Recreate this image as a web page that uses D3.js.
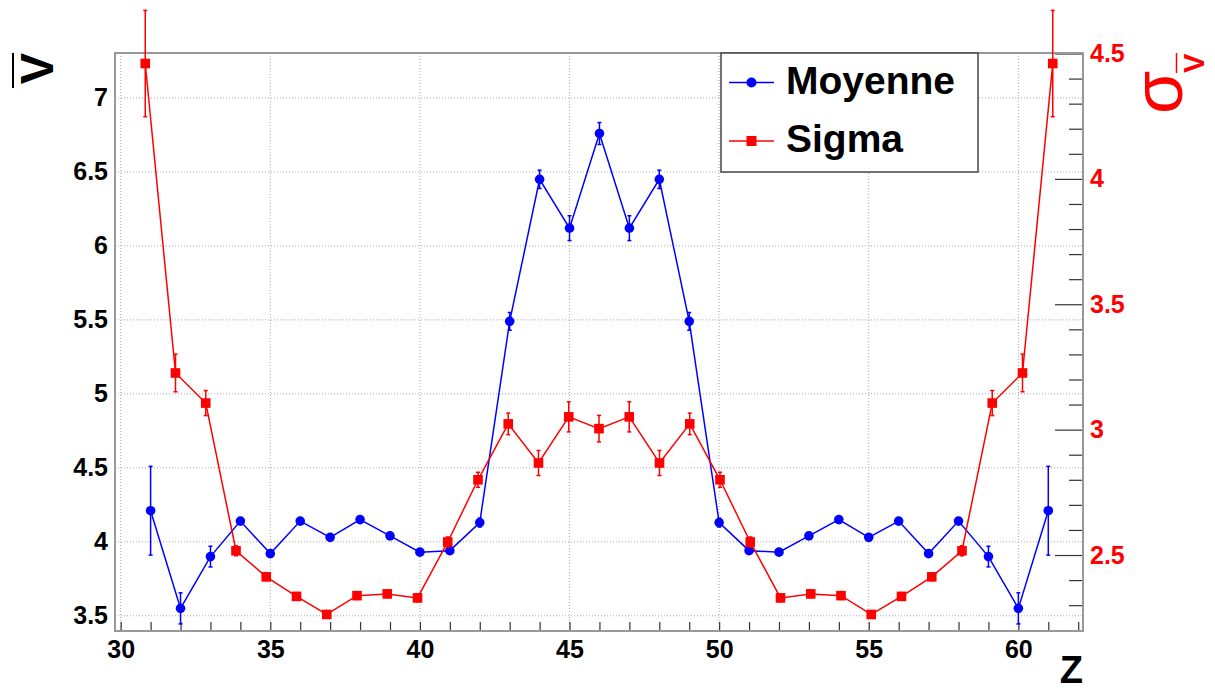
<!DOCTYPE html>
<html>
<head>
<meta charset="utf-8">
<script src="https://cdn.jsdelivr.net/npm/d3@7"></script>
<style>
  html, body { margin: 0; padding: 0; background: #fff; }
  svg { display: block; }
  text { font-family: "Liberation Sans", Arial, Helvetica, sans-serif; }
</style>
</head>
<body>
<svg id="chart" width="1215" height="691"></svg>
<script>
// ---------------- data ----------------
const zValues = [31, 32, 33, 34, 35, 36, 37, 38, 39, 40, 41, 42, 43, 44, 45, 46,
                 47, 48, 49, 50, 51, 52, 53, 54, 55, 56, 57, 58, 59, 60, 61];
const moyenne = [4.21, 3.55, 3.90, 4.14, 3.92, 4.14, 4.03, 4.15, 4.04, 3.93, 3.94, 4.13, 5.49, 6.45, 6.12, 6.76,
                 6.12, 6.45, 5.49, 4.13, 3.94, 3.93, 4.04, 4.15, 4.03, 4.14, 3.92, 4.14, 3.90, 3.55, 4.21];
const moyenneErr = [0.30, 0.105, 0.07, 0.02, 0.02, 0.02, 0.02, 0.02, 0.02, 0.02, 0.02, 0.03, 0.06, 0.062, 0.084, 0.074,
                    0.084, 0.062, 0.06, 0.03, 0.02, 0.02, 0.02, 0.02, 0.02, 0.02, 0.02, 0.02, 0.07, 0.105, 0.30];
const sigma = [4.46, 3.226, 3.106, 2.517, 2.413, 2.335, 2.263, 2.338, 2.345, 2.329, 2.552, 2.80, 3.023, 2.867, 3.051, 3.004,
               3.051, 2.867, 3.023, 2.80, 2.552, 2.329, 2.345, 2.338, 2.263, 2.335, 2.413, 2.517, 3.106, 3.226, 4.46];
const sigmaErr = [0.212, 0.075, 0.05, 0.02, 0.015, 0.015, 0.015, 0.015, 0.015, 0.015, 0.02, 0.03, 0.043, 0.05, 0.06, 0.053,
                  0.06, 0.05, 0.043, 0.03, 0.02, 0.015, 0.015, 0.015, 0.015, 0.015, 0.015, 0.02, 0.05, 0.075, 0.212];

const xMajorTicks = [30, 35, 40, 45, 50, 55, 60];
const xMinorTicks = [30, 31, 32, 33, 34, 35, 36, 37, 38, 39, 40, 41, 42, 43, 44, 45, 46,
                     47, 48, 49, 50, 51, 52, 53, 54, 55, 56, 57, 58, 59, 60, 61, 62];
const leftTicks = [3.5, 4, 4.5, 5, 5.5, 6, 6.5, 7];
const rightMajorTicks = [2.5, 3, 3.5, 4, 4.5];
const rightMinorTicks = [2.3, 2.4, 2.6, 2.7, 2.8, 2.9, 3.1, 3.2, 3.3, 3.4, 3.6, 3.7, 3.8, 3.9, 4.1, 4.2, 4.3, 4.4];
const legendLabels = ["Moyenne", "Sigma"];

// ---------------- layout ----------------
const svg = d3.select("#chart");
const L = 115, R = 1083, T = 53, B = 631;

const xBlue = d3.scaleLinear().domain([29.81, 62.16]).range([L, R]);
const xRed = d3.scaleLinear().domain([30, 62]).range([L, R]);
const yL = d3.scaleLinear().domain([3.397, 7.304]).range([B, T]);
const yR = d3.scaleLinear().domain([2.197, 4.502]).range([B, T]);

const BLUE = "#0000ff", RED = "#ff0000";

// grid
const grid = svg.append("g");
grid.selectAll("line.vg").data(xMajorTicks).join("line")
  .attr("x1", d => xBlue(d)).attr("x2", d => xBlue(d))
  .attr("y1", T).attr("y2", B)
  .attr("stroke", "#aaa").attr("stroke-width", 1).attr("stroke-dasharray", "1,2");
grid.selectAll("line.hg").data(leftTicks).join("line")
  .attr("x1", L).attr("x2", R)
  .attr("y1", d => yL(d)).attr("y2", d => yL(d))
  .attr("stroke", "#aaa").attr("stroke-width", 1).attr("stroke-dasharray", "1,2");

// x ticks (inside)
const xTickG = svg.append("g").attr("transform", `translate(0,${B})`)
  .call(d3.axisTop(xBlue).tickValues(xMinorTicks).tickSize(9).tickFormat(""));
xTickG.select(".domain").remove();
xTickG.selectAll("line").attr("stroke", "#333").attr("stroke-width", 1.2);

// x labels
const xLab = svg.append("g").attr("transform", `translate(0,${B})`)
  .call(d3.axisBottom(xBlue).tickValues(xMajorTicks).tickSize(0).tickPadding(9).tickFormat(d3.format("d")));
xLab.select(".domain").remove();
xLab.selectAll("text").attr("font-size", 25).attr("font-weight", "bold").attr("fill", "#000")
  .style("font-family", "'Liberation Sans', Arial, sans-serif");

// left labels
const yLab = svg.append("g").attr("transform", `translate(${L},0)`)
  .call(d3.axisLeft(yL).tickValues(leftTicks).tickSize(0).tickPadding(7).tickFormat(d => String(d)));
yLab.select(".domain").remove();
yLab.selectAll("text").attr("font-size", 25).attr("font-weight", "bold").attr("fill", "#000")
  .style("font-family", "'Liberation Sans', Arial, sans-serif");

// right axis ticks
const rMinor = svg.append("g").attr("transform", `translate(${R},0)`)
  .call(d3.axisLeft(yR).tickValues(rightMinorTicks).tickSize(14).tickFormat(""));
rMinor.select(".domain").remove();
rMinor.selectAll("line").attr("stroke", "#333").attr("stroke-width", 1.2);
const rMajor = svg.append("g").attr("transform", `translate(${R},0)`)
  .call(d3.axisLeft(yR).tickValues(rightMajorTicks).tickSize(28).tickFormat(""));
rMajor.select(".domain").remove();
rMajor.selectAll("line").attr("stroke", "#333").attr("stroke-width", 1.2);
const rLab = svg.append("g").attr("transform", `translate(${R},0)`)
  .call(d3.axisRight(yR).tickValues(rightMajorTicks).tickSize(0).tickPadding(7).tickFormat(d => String(d)));
rLab.select(".domain").remove();
rLab.selectAll("text").attr("font-size", 25).attr("font-weight", "bold").attr("fill", RED)
  .style("font-family", "'Liberation Sans', Arial, sans-serif");

// frame
svg.append("rect").attr("x", L).attr("y", T).attr("width", R - L).attr("height", B - T)
  .attr("fill", "none").attr("stroke", "#999").attr("stroke-width", 2);

// series drawing
function drawSeries(xs, ys, errs, xScale, yScale, color, marker) {
  const g = svg.append("g");
  const data = xs.map((x, i) => ({ x, y: ys[i], e: errs[i] }));
  g.append("path").datum(data)
    .attr("fill", "none").attr("stroke", color).attr("stroke-width", 1.5)
    .attr("d", d3.line().x(d => xScale(d.x)).y(d => yScale(d.y)));
  g.selectAll("line.err").data(data).join("line")
    .attr("x1", d => xScale(d.x)).attr("x2", d => xScale(d.x))
    .attr("y1", d => yScale(d.y + d.e)).attr("y2", d => yScale(d.y - d.e))
    .attr("stroke", color).attr("stroke-width", 1.5);
  g.selectAll("line.capt").data(data).join("line")
    .attr("x1", d => xScale(d.x) - 2).attr("x2", d => xScale(d.x) + 2)
    .attr("y1", d => yScale(d.y + d.e)).attr("y2", d => yScale(d.y + d.e))
    .attr("stroke", color).attr("stroke-width", 1.5);
  g.selectAll("line.capb").data(data).join("line")
    .attr("x1", d => xScale(d.x) - 2).attr("x2", d => xScale(d.x) + 2)
    .attr("y1", d => yScale(d.y - d.e)).attr("y2", d => yScale(d.y - d.e))
    .attr("stroke", color).attr("stroke-width", 1.5);
  if (marker === "circle") {
    g.selectAll("circle").data(data).join("circle")
      .attr("cx", d => xScale(d.x)).attr("cy", d => yScale(d.y)).attr("r", 4.8)
      .attr("fill", color);
  } else {
    g.selectAll("rect").data(data).join("rect")
      .attr("x", d => xScale(d.x) - 4.8).attr("y", d => yScale(d.y) - 4.8)
      .attr("width", 9.6).attr("height", 9.6).attr("fill", color);
  }
}
drawSeries(zValues, moyenne, moyenneErr, xBlue, yL, BLUE, "circle");
drawSeries(zValues, sigma, sigmaErr, xRed, yR, RED, "square");

// legend
const lg = svg.append("g");
lg.append("rect").attr("x", 721).attr("y", 53).attr("width", 257).attr("height", 119)
  .attr("fill", "#fff").attr("stroke", "#444").attr("stroke-width", 1.5);
const legendColors = [BLUE, RED];
const legendRows = [82.5, 141];
legendLabels.forEach((lab, i) => {
  const yy = legendRows[i];
  lg.append("line").attr("x1", 729).attr("x2", 774).attr("y1", yy).attr("y2", yy)
    .attr("stroke", legendColors[i]).attr("stroke-width", 1.5);
  if (i === 0) {
    lg.append("circle").attr("cx", 751.5).attr("cy", yy).attr("r", 5).attr("fill", BLUE);
  } else {
    lg.append("rect").attr("x", 746.5).attr("y", yy - 5).attr("width", 10).attr("height", 10).attr("fill", RED);
  }
  lg.append("text").attr("x", 786).attr("y", yy + 11)
    .attr("font-size", 39).attr("font-weight", "bold").attr("fill", "#000").text(lab);
});

// axis titles
svg.append("text").attr("x", R).attr("y", 683).attr("text-anchor", "end")
  .attr("font-size", 38).attr("font-weight", "bold").text("Z");

// left title: V with overline (rotated)
const vt = svg.append("g").attr("transform", "translate(53,53) rotate(-90)");
vt.append("text").attr("x", 0).attr("y", 0).attr("text-anchor", "end")
  .attr("font-size", 47).attr("font-weight", "bold").attr("fill", "#000").text("V");
vt.append("line").attr("x1", -35).attr("x2", 0).attr("y1", -40).attr("y2", -40)
  .attr("stroke", "#000").attr("stroke-width", 2);

// right title: sigma with subscript V-bar (rotated)
const st = svg.append("g").attr("transform", "translate(1182,114) rotate(-90)");
st.append("text").attr("x", 0).attr("y", 0)
  .attr("font-size", 70).attr("fill", RED).text("σ");
st.append("text").attr("x", 41).attr("y", 22)
  .attr("font-size", 29).attr("font-weight", "bold").attr("fill", RED).text("V");
st.append("line").attr("x1", 41).attr("x2", 61).attr("y1", -5.5).attr("y2", -5.5)
  .attr("stroke", RED).attr("stroke-width", 1.5);
</script>
</body>
</html>
